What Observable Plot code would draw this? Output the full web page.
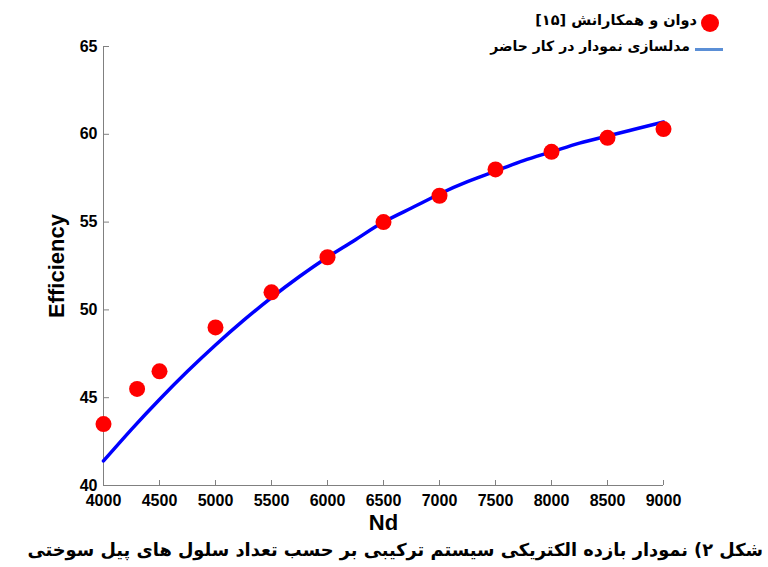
<!DOCTYPE html>
<html>
<head>
<meta charset="utf-8">
<script src="https://cdn.jsdelivr.net/npm/d3@7"></script>
<script src="https://cdn.jsdelivr.net/npm/@observablehq/plot@0.6"></script>
<style>
  body { margin: 0; background: #fff; }
  #wrap { position: relative; width: 768px; height: 567px; overflow: hidden; background: #fff; }
  .fa { font-family: "DejaVu Sans", sans-serif; font-weight: bold; direction: rtl; position: absolute; white-space: nowrap; color: #000; }
</style>
</head>
<body>
<div id="wrap">
  <div id="chart"></div>
  <div class="fa" style="right:71px; top:12px; font-size:14.5px;">دوان و همکارانش [۱۵]</div>
  <div style="position:absolute; left:701px; top:14px; width:18px; height:18px; border-radius:50%; background:#ff0000;"></div>
  <div class="fa" style="right:78px; top:38px; font-size:14px;">مدلسازی نمودار در کار حاضر</div>
  <div style="position:absolute; left:695px; top:48px; width:28px; height:3px; background:#5b8fd6;"></div>
  <div class="fa" style="right:5px; top:539px; font-size:17.8px;">شکل ۲) نمودار بازده الکتریکی سیستم ترکیبی بر حسب تعداد سلول های پیل سوختی</div>
</div>
<script>
// Experimental data (Duan et al. [15])
const expNd = [4000, 4300, 4500, 5000, 5500, 6000, 6500, 7000, 7500, 8000, 8500, 9000];
const expEff = [43.5, 45.5, 46.5, 49.0, 51.0, 53.0, 55.0, 56.5, 58.0, 59.0, 59.8, 60.3];

// Model curve (present work)
const modelNd = [4000, 4250, 4500, 4750, 5000, 5250, 5500, 5750, 6000, 6250, 6500, 6750, 7000, 7250, 7500, 7750, 8000, 8250, 8500, 8750, 9000];
const modelEff = [41.4, 43.2, 44.9, 46.5, 48.0, 49.4, 50.7, 51.9, 53.0, 54.0, 55.0, 55.8, 56.6, 57.3, 57.9, 58.5, 59.0, 59.5, 59.9, 60.3, 60.7];

const xTicks = [4000, 4500, 5000, 5500, 6000, 6500, 7000, 7500, 8000, 8500, 9000];
const yTicks = [40, 45, 50, 55, 60, 65];

const points = expNd.map((x, i) => ({x, y: expEff[i]}));
const curve = modelNd.map((x, i) => ({x, y: modelEff[i]}));

const W = 768, H = 530, mL = 103, mR = 105, mT = 46, mB = 45;
const innerW = W - mL - mR, innerH = H - mT - mB;
const axisColor = "#808080";

const chart = Plot.plot({
  width: W, height: H,
  marginLeft: mL, marginRight: mR, marginTop: mT, marginBottom: mB,
  style: {fontFamily: "'Liberation Sans', Arial, sans-serif", fontWeight: "bold", color: "#000", background: "#fff", overflow: "visible"},
  x: {domain: [4000, 9000]},
  y: {domain: [40, 65]},
  marks: [
    Plot.axisX({ticks: xTicks, tickSize: 0, tickPadding: 9, fontSize: 16, label: null, tickFormat: d => String(d)}),
    Plot.axisY({ticks: yTicks, tickSize: 0, tickPadding: 6, fontSize: 16, label: null}),
    Plot.tickX(xTicks, {x: d => d, insetTop: innerH - 5, stroke: axisColor, strokeWidth: 1}),
    Plot.tickY(yTicks, {y: d => d, insetRight: innerW - 6, stroke: axisColor, strokeWidth: 1}),
    Plot.ruleX([4000], {stroke: axisColor, strokeWidth: 1}),
    Plot.ruleY([40], {stroke: axisColor, strokeWidth: 1}),
    Plot.line(curve, {x: "x", y: "y", stroke: "#0000ff", strokeWidth: 3.5, curve: "natural"}),
    Plot.dot(points, {x: "x", y: "y", r: 8, fill: "#ff0000", stroke: "none"}),
    Plot.text(["Efficiency"], {frameAnchor: "left", dx: -47, rotate: -90, textAnchor: "middle", lineAnchor: "middle", text: d => d, fontSize: 22, fontWeight: "bold", fill: "#000"}),
    Plot.text(["Nd"], {frameAnchor: "bottom", dy: 37, lineAnchor: "middle", text: d => d, fontSize: 22, fontWeight: "bold", fill: "#000"})
  ]
});
document.getElementById("chart").appendChild(chart);
</script>
</body>
</html>
